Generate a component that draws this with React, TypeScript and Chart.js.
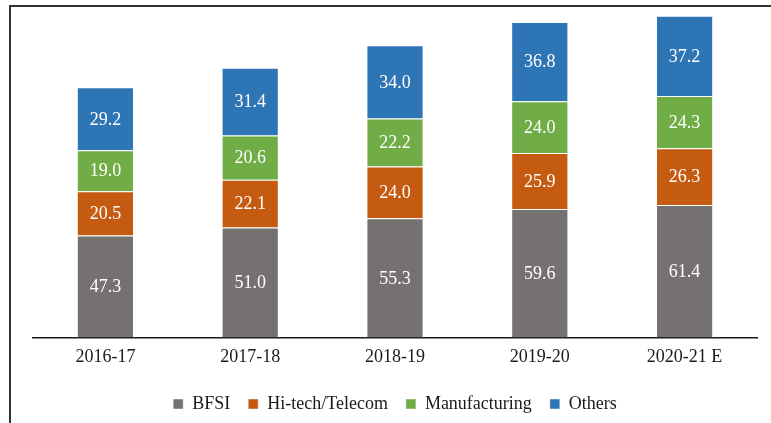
import React, { useEffect, useRef } from "react";
import { Chart, registerables } from "chart.js";

Chart.register(...registerables);

const categories = ["2016-17", "2017-18", "2018-19", "2019-20", "2020-21 E"];
const bfsi = [47.3, 51.0, 55.3, 59.6, 61.4];
const hitech = [20.5, 22.1, 24.0, 25.9, 26.3];
const manufacturing = [19.0, 20.6, 22.2, 24.0, 24.3];
const others = [29.2, 31.4, 34.0, 36.8, 37.2];

const FONT = "'Liberation Serif', 'DejaVu Serif', serif";

const labelPlugin = {
  id: "segLabels",
  afterDatasetsDraw(chart: any) {
    const ctx = chart.ctx;
    ctx.save();
    ctx.fillStyle = "#ffffff";
    ctx.font = `18px ${FONT}`;
    ctx.textAlign = "center";
    ctx.textBaseline = "middle";
    chart.data.datasets.forEach((ds: any, i: number) => {
      const meta = chart.getDatasetMeta(i);
      meta.data.forEach((bar: any, j: number) => {
        const cy = (bar.y + bar.base) / 2;
        ctx.fillText(Number(ds.data[j]).toFixed(1), bar.x, cy + 1);
      });
    });
    ctx.restore();
  },
};

export default function App() {
  const ref = useRef<HTMLCanvasElement>(null);
  useEffect(() => {
    document.body.style.margin = "0";
    const chart = new Chart(ref.current!, {
      type: "bar",
      data: {
        labels: categories,
        datasets: [
          { label: "BFSI", data: bfsi, backgroundColor: "#767171" },
          { label: "Hi-tech/Telecom", data: hitech, backgroundColor: "#C55A11" },
          { label: "Manufacturing", data: manufacturing, backgroundColor: "#70AD47" },
          { label: "Others", data: others, backgroundColor: "#2E75B6" },
        ].map((d) => ({
          ...d,
          borderColor: "rgba(255,255,255,0.45)",
          borderWidth: 1,
          categoryPercentage: 1,
          barPercentage: 0.395,
        })),
      },
      options: {
        animation: false,
        responsive: false,
        maintainAspectRatio: false,
        layout: { padding: { left: 33, right: 14, top: 14, bottom: 0 } },
        scales: {
          x: {
            stacked: true,
            grid: { display: false, drawTicks: false },
            border: { display: true, color: "#1a1a1a", width: 1.5 },
            ticks: { color: "#1a1a1a", font: { family: FONT, size: 18 }, padding: 9 },
          },
          y: {
            stacked: true,
            display: false,
            min: 0,
            max: 150,
          },
        },
        plugins: {
          legend: {
            position: "bottom",
            labels: {
              boxWidth: 10,
              boxHeight: 10,
              padding: 18,
              color: "#1a1a1a",
              font: { family: FONT, size: 18 },
            },
          },
          tooltip: { enabled: false },
        },
      },
      plugins: [labelPlugin],
    });
    return () => chart.destroy();
  }, []);
  return (
    <div style={{ position: "relative", width: 771, height: 423, overflow: "hidden" }}>
      <canvas ref={ref} width={771} height={423} style={{ display: "block" }} />
      <div
        style={{
          position: "absolute",
          left: 9,
          top: 5,
          width: 800,
          height: 500,
          borderLeft: "2px solid #333",
          borderTop: "2px solid #333",
          pointerEvents: "none",
        }}
      />
    </div>
  );
}
